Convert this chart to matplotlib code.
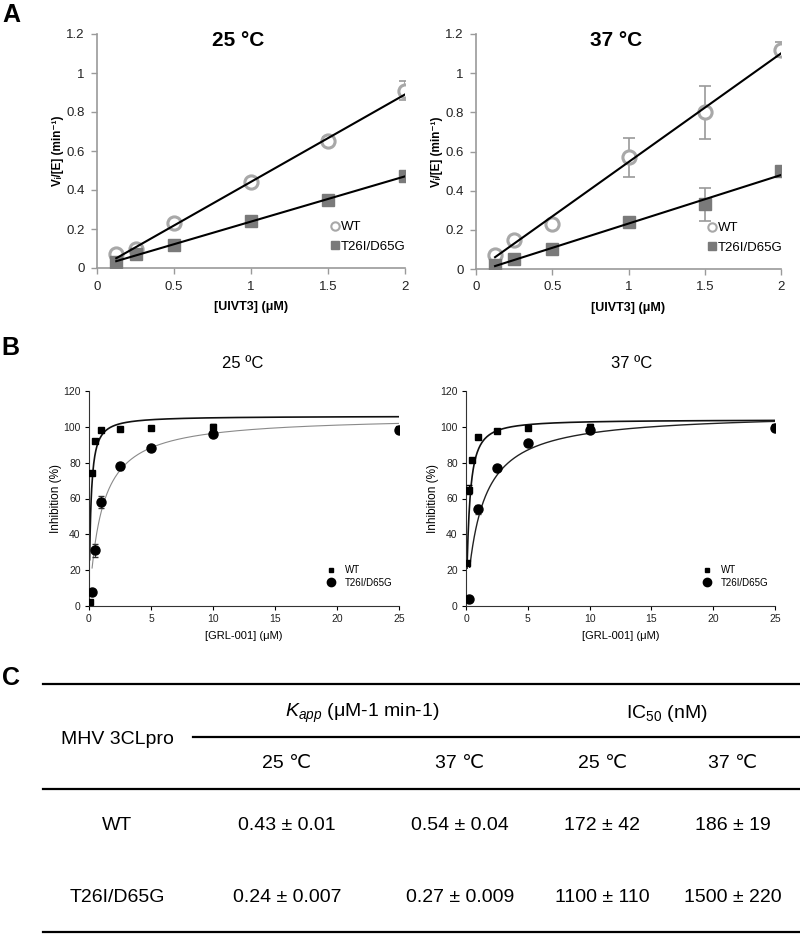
import numpy as np
import matplotlib
matplotlib.use('Agg')
import matplotlib.pyplot as plt
from matplotlib.lines import Line2D
from matplotlib.ticker import FuncFormatter

plt.rcParams['font.family'] = ['Liberation Sans', 'DejaVu Sans']
plt.rcParams['mathtext.fontset'] = 'custom'
plt.rcParams['mathtext.rm'] = 'Liberation Sans'
plt.rcParams['mathtext.it'] = 'Liberation Sans:italic'
plt.rcParams['mathtext.bf'] = 'Liberation Sans:bold'

# ---------------- Panel A data ----------------
substrate_uM = [0.125, 0.25, 0.5, 1, 1.5, 2]
wt_25 = [0.07, 0.10, 0.23, 0.44, 0.65, 0.91]
wt_25_err = [0.01, 0.015, 0.015, 0.01, 0.02, 0.05]
mut_25 = [0.03, 0.07, 0.12, 0.24, 0.35, 0.47]
mut_25_err = [0.01, 0.01, 0.01, 0.01, 0.01, 0.015]
wt_37 = [0.07, 0.15, 0.23, 0.57, 0.80, 1.12]
wt_37_err = [0.01, 0.015, 0.02, 0.10, 0.135, 0.04]
mut_37 = [0.02, 0.05, 0.10, 0.24, 0.33, 0.50]
mut_37_err = [0.01, 0.01, 0.01, 0.01, 0.085, 0.015]
# linear fits: (slope, intercept)
fit_wt_25 = (0.448, -0.006)
fit_mut_25 = (0.232, 0.006)
fit_wt_37 = (0.555, -0.009)
fit_mut_37 = (0.248, -0.016)

# ---------------- Panel B data ----------------
grl_uM = [0.1, 0.25, 0.5, 1, 2.5, 5, 10, 25]
wt_inh_25 = [2, 74, 92, 98, 99, 99.5, 100, 99]
wt_inh_25_err = [0.5, 1, 1, 1, 1, 1, 1.5, 1]
mut_inh_25 = [np.nan, 8, 31, 58, 78, 88, 96, 98]
mut_inh_25_err = [0, 1, 3.5, 3.5, 2, 1, 1, 1]
wt_inh_37 = [24, 65, 81.5, 94.4, 97.7, 99.4, 100, 100]
wt_inh_37_err = [1, 2.5, 1, 1, 1, 1, 1.5, 1]
mut_inh_37 = [np.nan, 4, np.nan, 54, 77, 91, 98, 99.4]
mut_inh_37_err = [0, 1, 0, 2.5, 1, 1, 1, 1]
# dose-response fits: (top, IC50 uM, hill, x start)
dr_wt_25 = (106, 0.14, 1.1, 0.05)
dr_mut_25 = (106, 1.0, 1.0, 0.25)
dr_wt_37 = (104, 0.25, 1.2, 0.08)
dr_mut_37 = (108, 1.2, 1.0, 0.3)

# ---------------- Panel C table ----------------
row_labels = ['WT', 'T26I/D65G']
kapp_25 = ['0.43 \u00b1 0.01', '0.24 \u00b1 0.007']
kapp_37 = ['0.54 \u00b1 0.04', '0.27 \u00b1 0.009']
ic50_25 = ['172 \u00b1 42', '1100 \u00b1 110']
ic50_37 = ['186 \u00b1 19', '1500 \u00b1 220']
temp_headers = ['25 \u2103', '37 \u2103', '25 \u2103', '37 \u2103']

W, H = 800, 934
fig = plt.figure(figsize=(8, 9.34), dpi=100)

def rect(x0, y0, x1, y1):
    return [x0 / W, 1 - y1 / H, (x1 - x0) / W, (y1 - y0) / H]

fmt = FuncFormatter(lambda v, p: '%g' % v)

def panel_a(ax, title, wt, wte, mut, mute, fwt, fmut):
    x = np.array(substrate_uM)
    ax.errorbar(x, wt, yerr=wte, fmt='none', ecolor='#9a9a9a', elinewidth=1.2,
                capsize=4, capthick=1.2, zorder=2)
    ax.errorbar(x, mut, yerr=mute, fmt='none', ecolor='#9a9a9a', elinewidth=1.2,
                capsize=4, capthick=1.2, zorder=2)
    ax.plot(x, wt, 'o', ms=9.5, mfc='white', mec='#a8a8a8', mew=2.2, zorder=3, label='WT')
    ax.plot(x, mut, 's', ms=9, mfc='#7a7a7a', mec='#7a7a7a', zorder=3, label='T26I/D65G')
    xf = np.array([x[0], x[-1]])
    ax.plot(xf, fwt[0] * xf + fwt[1], color='black', lw=1.5, zorder=4)
    ax.plot(xf, fmut[0] * xf + fmut[1], color='black', lw=1.5, zorder=4)
    ax.set_xlim(0, 2)
    ax.set_ylim(0, 1.2)
    ax.set_xticks([0, 0.5, 1, 1.5, 2])
    ax.set_yticks([0, 0.2, 0.4, 0.6, 0.8, 1.0, 1.2])
    ax.xaxis.set_major_formatter(fmt)
    ax.yaxis.set_major_formatter(fmt)
    for s in ['top', 'right']:
        ax.spines[s].set_visible(False)
    for s in ['left', 'bottom']:
        ax.spines[s].set_color('#9a9a9a')
        ax.spines[s].set_linewidth(1.2)
    ax.tick_params(colors='#9a9a9a', labelcolor='#222222', labelsize=9.5, length=4, width=1.0)
    ax.tick_params(axis='y', pad=5)
    ax.tick_params(axis='x', pad=5)
    ax.set_xlabel('[UIVT3] (\u03bcM)', fontsize=9, fontweight='bold', labelpad=6)
    ax.set_ylabel('V\u1d62/[E] (min\u207b\u00b9)', fontsize=8.5, fontweight='bold', labelpad=1.5)
    ax.text(0.46, 0.972, title, transform=ax.transAxes, ha='center', va='center',
            fontsize=15, fontweight='bold')
    h = [Line2D([], [], marker='o', ls='none', ms=6, mfc='white', mec='#a8a8a8', mew=1.5),
         Line2D([], [], marker='s', ls='none', ms=6, mfc='#7a7a7a', mec='#7a7a7a')]
    ax.legend(h, ['WT', 'T26I/D65G'], loc='upper left', bbox_to_anchor=(0.76, 0.2),
              frameon=False, fontsize=9.5, handlelength=0.6, handletextpad=0.15,
              labelspacing=0.55, borderpad=0, borderaxespad=0)

def hill(p, x):
    top, ic, h, _ = p
    return top * x ** h / (ic ** h + x ** h)

def panel_b(ax, title, tx, wt, wte, mut, mute, pwt, pmut, mutcolor, mutlw):
    x = np.array(grl_uM)
    xs = np.linspace(pwt[3], 25, 600)
    ax.plot(xs, hill(pwt, xs), color='#111111', lw=1.2, zorder=2)
    xs2 = np.linspace(pmut[3], 25, 600)
    ax.plot(xs2, hill(pmut, xs2), color=mutcolor, lw=mutlw, zorder=2)
    ax.errorbar(x, wt, yerr=wte, fmt='s', ms=4, color='black', ecolor='black',
                elinewidth=0.8, capsize=2.5, zorder=3)
    ax.errorbar(x, mut, yerr=mute, fmt='o', ms=6.5, color='black', ecolor='#333333',
                elinewidth=0.8, capsize=2.5, zorder=3)
    ax.set_xlim(0, 25)
    ax.set_ylim(0, 120)
    ax.set_xticks([0, 5, 10, 15, 20, 25])
    ax.set_yticks(range(0, 121, 20))
    for s in ['top', 'right']:
        ax.spines[s].set_visible(False)
    for s in ['left', 'bottom']:
        ax.spines[s].set_color('#333333')
        ax.spines[s].set_linewidth(0.8)
    ax.tick_params(labelsize=7.5, labelcolor='#222222', length=3, width=0.8, pad=3)
    ax.set_xlabel('[GRL-001] (\u03bcM)', fontsize=8, labelpad=5)
    ax.set_ylabel('Inhibition (%)', fontsize=8.5, labelpad=1)
    ax.text(tx, 1.126, title, transform=ax.transAxes, ha='center', va='center', fontsize=12)
    h = [Line2D([], [], marker='s', ls='none', ms=3.5, color='black'),
         Line2D([], [], marker='o', ls='none', ms=6, color='black')]
    ax.legend(h, ['WT', 'T26I/D65G'], loc='upper left', bbox_to_anchor=(0.765, 0.19),
              frameon=False, fontsize=7, handlelength=1.0, handletextpad=0.9,
              labelspacing=0.25, borderpad=0, borderaxespad=0)

axA1 = fig.add_axes(rect(97, 34, 405, 268))
panel_a(axA1, '25 \u00b0C', wt_25, wt_25_err, mut_25, mut_25_err, fit_wt_25, fit_mut_25)
axA2 = fig.add_axes(rect(476, 34, 781, 269))
panel_a(axA2, '37 \u00b0C', wt_37, wt_37_err, mut_37, mut_37_err, fit_wt_37, fit_mut_37)

axB1 = fig.add_axes(rect(89, 391, 399, 606))
panel_b(axB1, '25 \u00baC', 0.497, wt_inh_25, wt_inh_25_err, mut_inh_25, mut_inh_25_err,
        dr_wt_25, dr_mut_25, '#8a8a8a', 0.8)
axB2 = fig.add_axes(rect(466, 391, 775, 606))
panel_b(axB2, '37 \u00baC', 0.537, wt_inh_37, wt_inh_37_err, mut_inh_37, mut_inh_37_err,
        dr_wt_37, dr_mut_37, '#222222', 1.0)

# panel letters
for lab, px, py in [('A', 11, 15), ('B', 10, 348), ('C', 11, 678)]:
    fig.text(px / W, 1 - py / H, lab, fontsize=18, fontweight='bold', ha='center', va='center')

# ---------------- table ----------------
def hline(x0, x1, y, lw=1.6):
    fig.add_artist(Line2D([x0 / W, x1 / W], [1 - y / H, 1 - y / H],
                          transform=fig.transFigure, color='black', lw=lw))

def t(px, py, s, **kw):
    fig.text(px / W, 1 - py / H, s, ha='center', va='center', fontsize=14, **kw)

hline(43, 800, 684)
hline(193, 800, 737)
hline(43, 800, 789)
hline(43, 800, 932)

t(117, 739, 'MHV 3CLpro')
t(362, 713, '$K_{app}$ (\u03bcM-1 min-1)')
t(667, 713, r'IC$_{\mathrm{50}}$ (nM)')
col_x = [287, 460, 602, 733]
for cx, hd in zip(col_x, temp_headers):
    t(cx, 764, hd)
row_y = [826, 897]
for i, ry in enumerate(row_y):
    t(117, ry, row_labels[i])
    t(col_x[0], ry, kapp_25[i])
    t(col_x[1], ry, kapp_37[i])
    t(col_x[2], ry, ic50_25[i])
    t(col_x[3], ry, ic50_37[i])

fig.savefig('out.png', dpi=100)
